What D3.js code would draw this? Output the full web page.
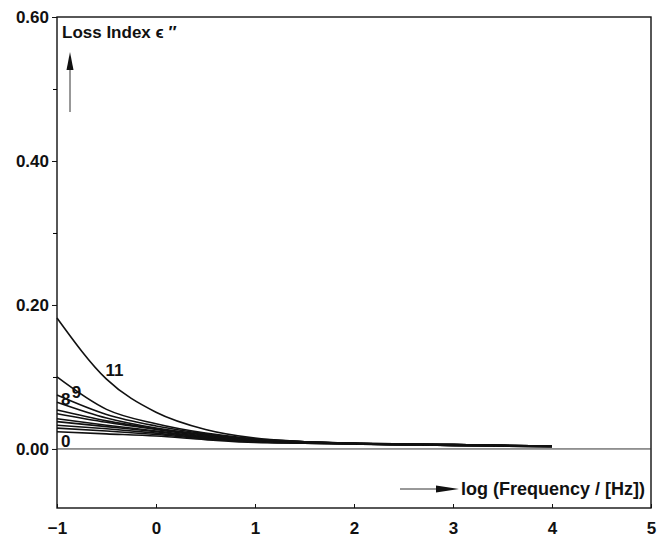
<!DOCTYPE html>
<html>
<head>
<meta charset="utf-8">
<script src="https://cdn.jsdelivr.net/npm/d3@7"></script>
<style>
  body { margin: 0; background: #fff; }
  text { font-family: "Liberation Sans", Arial, sans-serif; font-weight: bold; fill: #111; }
</style>
</head>
<body>
<svg id="chart" width="669" height="540"></svg>
<script>
// log frequency sample points
var logF = [-1, -0.5, 0, 0.5, 1, 1.5, 2, 3, 4];

// loss index for each curve (curve number -> values at logF)
var curveIds = [0, 1, 2, 3, 4, 5, 6, 7, 8, 9, 11];
var curve0  = [0.024, 0.021, 0.018, 0.013, 0.009, 0.008, 0.007, 0.005, 0.003];
var curve1  = [0.029, 0.025, 0.020, 0.014, 0.010, 0.008, 0.007, 0.005, 0.003];
var curve2  = [0.033, 0.028, 0.022, 0.015, 0.010, 0.008, 0.007, 0.005, 0.003];
var curve3  = [0.038, 0.031, 0.024, 0.016, 0.011, 0.009, 0.007, 0.005, 0.004];
var curve4  = [0.042, 0.033, 0.025, 0.017, 0.011, 0.009, 0.007, 0.005, 0.004];
var curve5  = [0.049, 0.037, 0.027, 0.018, 0.012, 0.009, 0.008, 0.006, 0.004];
var curve6  = [0.054, 0.039, 0.028, 0.019, 0.012, 0.009, 0.008, 0.006, 0.004];
var curve7  = [0.065, 0.043, 0.029, 0.020, 0.013, 0.010, 0.008, 0.006, 0.004];
var curve8  = [0.075, 0.048, 0.032, 0.021, 0.013, 0.010, 0.008, 0.006, 0.004];
var curve9  = [0.100, 0.055, 0.035, 0.022, 0.014, 0.010, 0.008, 0.006, 0.004];
var curve11 = [0.182, 0.097, 0.051, 0.027, 0.015, 0.010, 0.008, 0.006, 0.004];
var allCurves = [curve0, curve1, curve2, curve3, curve4, curve5, curve6, curve7, curve8, curve9, curve11];

var xTicks = [-1, 0, 1, 2, 3, 4, 5];
var yTicks = [0.00, 0.20, 0.40, 0.60];
var yMinorTicks = [0.10, 0.30, 0.50];

var svg = d3.select("#chart");
var x = d3.scaleLinear().domain([-1, 5]).range([57, 651]);
var y = d3.scaleLinear().domain([-0.082, 0.60]).range([508, 17]);

// frame
svg.append("rect")
    .attr("x", x(-1)).attr("y", y(0.60))
    .attr("width", x(5) - x(-1)).attr("height", y(-0.082) - y(0.60))
    .attr("fill", "none").attr("stroke", "#111").attr("stroke-width", 1.4);

// zero line
svg.append("line")
    .attr("x1", x(-1)).attr("x2", x(5))
    .attr("y1", y(0)).attr("y2", y(0))
    .attr("stroke", "#333").attr("stroke-width", 1);

// y axis
var yAxis = d3.axisLeft(y).tickValues(yTicks).tickFormat(d3.format(".2f")).tickSize(5).tickPadding(3);
var gy = svg.append("g").attr("transform", "translate(" + x(-1) + ",0)").call(yAxis);
gy.select(".domain").remove();
gy.selectAll("text").style("font-size", "17px");
gy.selectAll("line").attr("stroke", "#111");
svg.append("g").attr("transform", "translate(" + x(-1) + ",0)")
    .call(d3.axisLeft(y).tickValues(yMinorTicks).tickFormat("").tickSize(4))
    .select(".domain").remove();

// x axis
var xAxis = d3.axisBottom(x).tickValues(xTicks).tickFormat(function(d) { return d < 0 ? "\u2212" + Math.abs(d) : d; })
    .tickSizeInner(-4).tickSizeOuter(0).tickPadding(14);
var gx = svg.append("g").attr("transform", "translate(0," + y(-0.082) + ")").call(xAxis);
gx.select(".domain").remove();
gx.selectAll("text").style("font-size", "17px");
gx.selectAll("line").attr("stroke", "#111");

// curves
var line = d3.line()
    .x(function(d, i) { return x(logF[i]); })
    .y(function(d) { return y(d); })
    .curve(d3.curveMonotoneX);

svg.append("g").selectAll("path").data(allCurves).enter().append("path")
    .attr("d", line)
    .attr("fill", "none").attr("stroke", "#111").attr("stroke-width", 1.6);

// curve labels
var labels = [
    {t: "11", lx: -0.51, v: 0.102},
    {t: "9", lx: -0.85, v: 0.071},
    {t: "8", lx: -0.96, v: 0.061},
    {t: "0", lx: -0.96, v: 0.003}
];
svg.append("g").selectAll("text").data(labels).enter().append("text")
    .attr("x", function(d) { return x(d.lx); })
    .attr("y", function(d) { return y(d.v); })
    .style("font-size", "17px")
    .text(function(d) { return d.t; });

// y label with arrow
svg.append("text").attr("x", 62).attr("y", 38).style("font-size", "17px").text("Loss Index \u03f5 \u2033");
svg.append("line").attr("x1", 70).attr("x2", 70).attr("y1", 112).attr("y2", 60)
    .attr("stroke", "#333").attr("stroke-width", 1);
svg.append("path").attr("d", "M70,52 L66.5,70 L73.5,70 Z").attr("fill", "#111");

// x label with arrow
svg.append("text").attr("x", 645).attr("y", 495).attr("text-anchor", "end")
    .style("font-size", "18px").text("log (Frequency / [Hz])");
svg.append("line").attr("x1", 400).attr("x2", 442).attr("y1", 489).attr("y2", 489)
    .attr("stroke", "#333").attr("stroke-width", 1);
svg.append("path").attr("d", "M459,489 L436,485.5 L436,492.5 Z").attr("fill", "#111");
</script>
</body>
</html>
